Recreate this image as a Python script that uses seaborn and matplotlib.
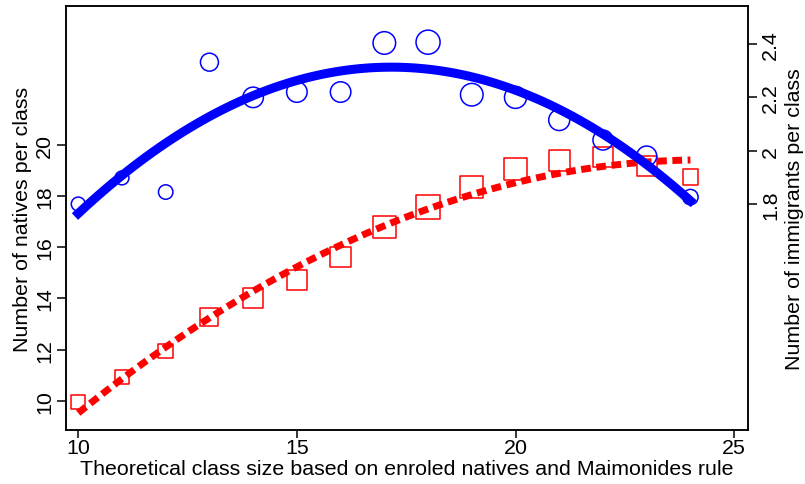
import numpy as np
import pandas as pd
import seaborn as sns
import matplotlib.pyplot as plt

# values
class_size = [10, 11, 12, 13, 14, 15, 16, 17, 18, 19, 20, 21, 22, 23, 24]
natives = [9.95, 10.93, 11.94, 13.27, 14.01, 14.72, 15.62, 16.79, 17.57,
           18.36, 19.06, 19.41, 19.52, 19.18, 18.75]
immigrants = [1.80, 1.898, 1.845, 2.332, 2.20, 2.22, 2.22, 2.404, 2.407,
              2.21, 2.20, 2.115, 2.04, 1.98, 1.826]
# weights used for marker size
n_classes = [49, 49, 53, 81, 105, 105, 105, 127, 144, 127, 121, 110, 100, 100, 60]

df = pd.DataFrame({'class_size': class_size, 'natives': natives,
                   'immigrants': immigrants, 'n_classes': n_classes})

sns.set_style('ticks')
plt.rcParams['font.family'] = ['Liberation Sans', 'DejaVu Sans']
plt.rcParams['text.color'] = 'black'
plt.rcParams['axes.labelcolor'] = 'black'
plt.rcParams['xtick.color'] = 'black'
plt.rcParams['ytick.color'] = 'black'

fig = plt.figure(figsize=(8.05, 4.85), dpi=100)
ax = fig.add_axes([0.082, 0.1113, 0.8468, 0.8742])
ax2 = ax.twinx()

# natives: red squares + dashed quadratic fit (left axis)
sns.scatterplot(x='class_size', y='natives', data=df, size='n_classes',
                sizes=(100, 300), size_norm=(49, 144), marker='s',
                color='red', facecolor='none', edgecolor='red',
                linewidth=1.1, legend=False, ax=ax)
sns.regplot(x='class_size', y='natives', data=df, order=2, ci=None,
            scatter=False, ax=ax,
            line_kws=dict(color='red', lw=5, dashes=(1.4, 0.8),
                          dash_capstyle='butt'))

# immigrants: blue circles + solid quadratic fit (right axis)
sns.scatterplot(x='class_size', y='immigrants', data=df, size='n_classes',
                sizes=(100, 300), size_norm=(49, 144), marker='o',
                color='blue', facecolor='none', edgecolor='blue',
                linewidth=1.1, legend=False, ax=ax2)
sns.regplot(x='class_size', y='immigrants', data=df, order=2, ci=None,
            scatter=False, ax=ax2,
            line_kws=dict(color='blue', lw=6.5, solid_capstyle='projecting'))

ax.set_xlim(9.72, 25.31)
ax.set_ylim(8.855, 25.44)
ax2.set_ylim(0.9526, 2.5425)

ax.set_xticks([10, 15, 20, 25])
ax.set_yticks([10, 12, 14, 16, 18, 20], ['10', '12', '14', '16', '18', '20'],
              rotation=90, va='center')
ax2.set_yticks([1.8, 2.0, 2.2, 2.4], ['1.8', '2', '2.2', '2.4'],
               rotation=90, va='center')

for a in (ax, ax2):
    a.tick_params(direction='out', length=6.5, width=1.1, labelsize=15.4,
                  color='black', labelcolor='black', pad=3)
    for s in a.spines.values():
        s.set_linewidth(1.1)
        s.set_color('black')
ax.tick_params(axis='x', length=5.5, pad=0.5)
ax.tick_params(axis='y', pad=2)

ax.set_xlabel('Theoretical class size based on enroled natives and Maimonides rule',
              fontsize=15.4, labelpad=1)
ax.set_ylabel('Number of natives per class', fontsize=15.4, labelpad=2)
ax2.set_ylabel('Number of immigrants per class', fontsize=15.4, labelpad=4)

fig.savefig('out.png', dpi=100)
